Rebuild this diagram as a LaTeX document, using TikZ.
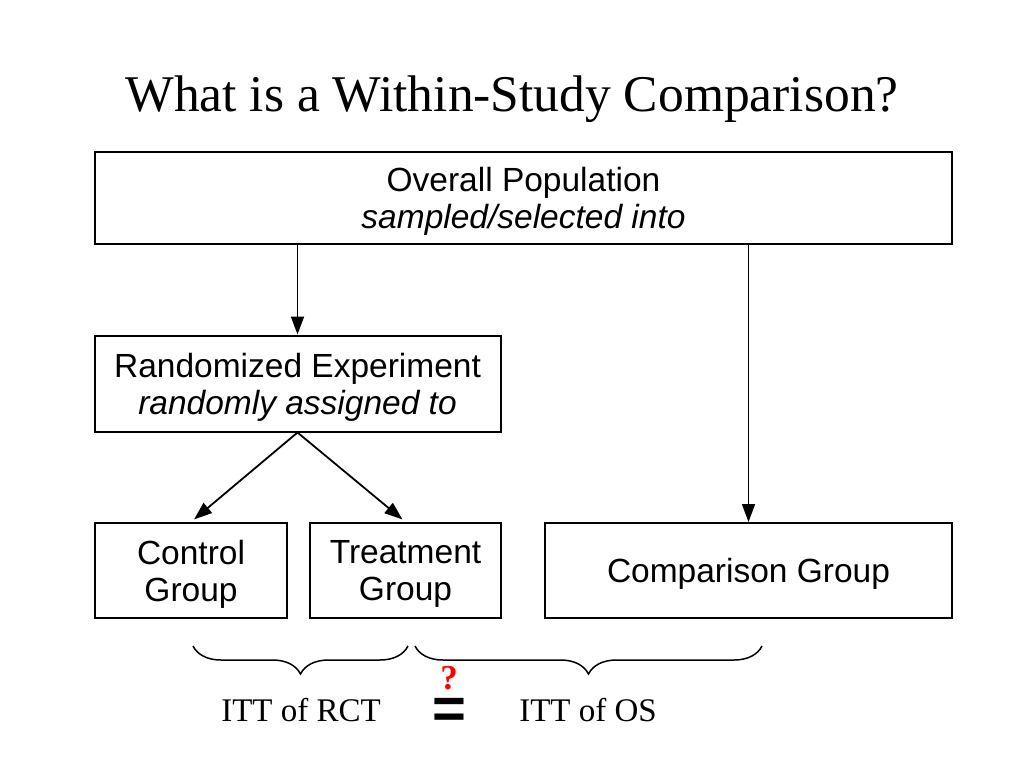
\documentclass[tikz,border=0pt]{standalone}
\usepackage{fontspec}
\setmainfont{Liberation Serif}
\setsansfont{Liberation Sans}
\usepackage{tikz}
\usetikzlibrary{positioning,shapes,arrows,arrows.meta,decorations.pathreplacing}

\tikzset{
  every box/.style={draw, line width=2pt, inner sep=0pt, align=center, text depth=0pt,
    font=\sffamily\fontsize{33.5}{37}\selectfont},
  brace line/.style={decorate, decoration={brace, mirror, amplitude=28pt}, line width=1.5pt},
  itt label/.style={font=\fontsize{33}{38}\selectfont}
}

\begin{document}
\begin{tikzpicture}[x=1pt, y=-1pt, >={Triangle[length=18pt,width=13pt]}]
    \useasboundingbox (0,0) rectangle (1024,768);

    % title
    \node [font=\fontsize{51.5}{56}\selectfont] (title) at (512,99) {What is a Within-Study Comparison?};

    % boxes
    \node [every box, minimum width=857pt, minimum height=92pt] (overall) at (523.5,198)
      {Overall Population\\ \textit{sampled/selected into}};
    \node [every box, minimum width=406pt, minimum height=96pt] (rand) at (297.5,383.5)
      {Randomized Experiment\\ \textit{randomly assigned to}};
    \node [every box, minimum width=192pt, minimum height=95pt] (ctrl) at (191,570.5)
      {Control\\ Group};
    \node [every box, minimum width=191pt, minimum height=95pt] (treat) at (405.5,570.5)
      {Treatment\\ Group};
    \node [every box, minimum width=407pt, minimum height=95pt] (comp) at (748.5,570.5)
      {Comparison Group};

    % arrows
    \draw [->, line width=1.8pt] (overall.south -| rand.north) -- (rand.north);
    \draw [->, line width=1.8pt] (overall.south -| comp.north) -- (comp.north);
    \draw [->, line width=1.8pt, shorten >=4pt] (rand.south) -- (ctrl.north);
    \draw [->, line width=1.8pt, shorten >=4pt] (rand.south) -- (treat.north);

    % braces
    \coordinate (rct-a) at (193,646);
    \coordinate (rct-b) at (408,646);
    \coordinate (os-a) at (415,646);
    \coordinate (os-b) at (762,646);
    \draw [brace line] (rct-a) -- (rct-b);
    \draw [brace line] (os-a) -- (os-b);

    % labels
    \node [itt label] (itt-rct) at (301,710) {ITT of RCT};
    \node [itt label] (itt-os) at (588,710) {ITT of OS};
    \node [inner sep=0pt, font=\bfseries\fontsize{35}{35}\selectfont, text=red] (quest) at (449,678.5) {?};
    \node [inner sep=0pt, font=\sffamily\bfseries\fontsize{58}{58}\selectfont] (eq) at (449,713) {=};
\end{tikzpicture}
\end{document}
